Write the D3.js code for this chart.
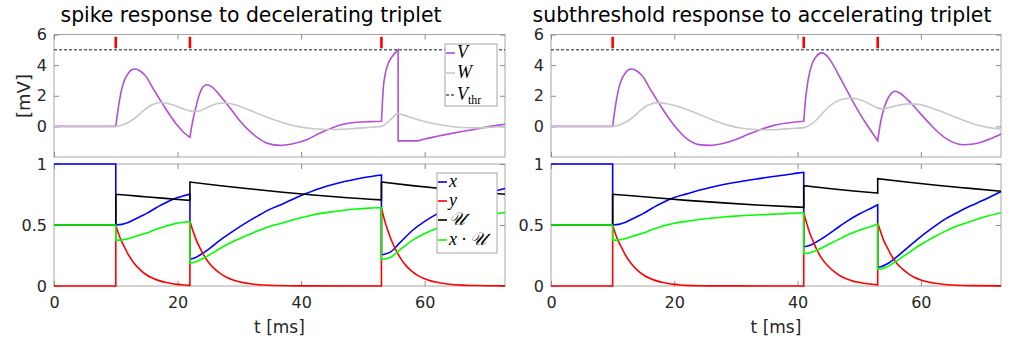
<!DOCTYPE html>
<html>
<head>
<meta charset="utf-8">
<script src="https://cdn.jsdelivr.net/npm/d3@7"></script>
<style>
  body { margin: 0; background: #fff; }
  .tick text { font-family: "DejaVu Sans", sans-serif; font-size: 16px; fill: #262626; }
  .tick line { stroke: #8c8c8c; }
  .lg { font-family: "Liberation Serif", serif; font-style: italic; font-size: 18px; fill: #000; }
</style>
</head>
<body>
<script>
// ---- data (t in ms) ----
const titles = ["spike response to decelerating triplet", "subthreshold response to accelerating triplet"];
const spikesLeft = [10, 22, 53];
const spikesRight = [10, 41, 53];
const vThr = 5;
const xTicks = [0, 20, 40, 60];
const mvTicks = [0, 2, 4, 6];
const stpTicks = [0, 0.5, 1];

const vLeft = [[0,0],[10,0],[10,0],[10.5,1.45],[11,2.5],[11.5,3.1],[12,3.45],[12.5,3.68],[13.1,3.75],[14,3.6],[15,3.2],[16,2.5],[17,1.85],[18,1.2],[19,0.6],[20,0.05],[21,-0.4],[22,-0.72],
  [22,-0.72],[22.5,0.44],[23,1.3],[23.5,2.05],[24.1,2.57],[24.7,2.72],[25.5,2.6],[26.5,2.2],[27.5,1.7],[28.5,1.2],[30,0.4],[31.5,-0.25],[33,-0.75],[34.5,-1.1],[36.6,-1.24],[39,-1.1],[41,-0.85],[43,-0.45],[45,-0.1],[47,0.15],[49,0.27],[51,0.31],[53,0.33],
  [53,0.33],[53.15,1.5],[53.3,2.5],[53.6,3.4],[54.1,4.1],[54.9,4.65],[55.7,5.0],
  [55.7,-0.95],[58.7,-0.95],[60,-0.82],[62,-0.65],[64,-0.49],[66,-0.34],[68,-0.2],[70,-0.05],[72,0.08],[73,0.14]];
const wLeft = [[0,0],[10,0],[11,0.07],[12,0.25],[13,0.5],[14,0.85],[15,1.2],[16,1.43],[17.3,1.56],[18,1.53],[19,1.43],[20,1.29],[21,1.13],[22,1.01],[22.8,0.97],[23.5,1.0],[24.5,1.18],[25.5,1.37],[26.5,1.49],[27.7,1.53],[29,1.45],[30.5,1.25],[32,1.0],[34,0.68],[36,0.38],[38,0.12],[40,-0.05],[42,-0.15],[44,-0.2],[46,-0.2],[48,-0.16],[50,-0.1],[52,-0.03],[53,0],[53.5,0.1],[54.5,0.45],[55.6,0.83],[56.5,0.75],[58,0.55],[60,0.32],[62,0.14],[64,0.01],[66,-0.07],[68,-0.1],[70,-0.07],[73,-0.01]];
const vRight = [[0,0],[10,0],[10,0],[10.5,1.45],[11,2.5],[11.5,3.1],[12,3.45],[12.5,3.68],[13.1,3.75],[14,3.6],[15,3.2],[16,2.5],[17,1.85],[18,1.2],[19,0.6],[20,0.05],[21,-0.42],[22,-0.8],[23,-1.05],[24,-1.19],[25.8,-1.24],[28,-1.1],[30,-0.85],[32,-0.52],[34,-0.2],[36,0.05],[38,0.2],[40,0.3],[41,0.33],
  [41,0.33],[41.3,1.8],[41.7,3.0],[42.2,3.9],[43,4.55],[43.9,4.8],[45,4.5],[46,3.85],[47,3.1],[48,2.35],[49,1.6],[50,0.9],[51,0.25],[52,-0.35],[53,-0.94],
  [53,-0.94],[53.5,0.35],[54,1.15],[54.5,1.7],[55,2.05],[55.8,2.29],[56.7,2.15],[57.7,1.8],[58.7,1.4],[60,0.8],[61.5,0.15],[63,-0.45],[64.5,-0.9],[66,-1.15],[67,-1.2],[68.5,-1.15],[70,-1.0],[71.5,-0.78],[73,-0.5]];
const wRight = [[0,0],[10,0],[11,0.07],[12,0.25],[13,0.5],[14,0.85],[15,1.2],[16,1.43],[17.3,1.55],[19,1.46],[21,1.25],[23,0.95],[25,0.62],[27,0.3],[29,0.05],[31,-0.12],[33,-0.2],[35,-0.22],[37,-0.2],[39,-0.14],[41,-0.08],[42,0.08],[43,0.4],[44,0.85],[45,1.25],[46,1.55],[47,1.74],[48.7,1.85],[50,1.76],[51.5,1.5],[53,1.2],[53.7,1.14],[54.5,1.19],[56,1.35],[58,1.47],[59.5,1.44],[61,1.3],[63,1.02],[65,0.7],[67,0.38],[69,0.1],[71,-0.08],[73,-0.17]];

const xLeft = [[0,1],[10,1],[10,0.5],[11,0.505],[12,0.52],[13,0.545],[14,0.57],[15,0.595],[16,0.625],[17,0.655],[18,0.68],[19,0.705],[20,0.725],[21,0.74],[22,0.753],
  [22,0.22],[22.5,0.225],[23.5,0.25],[25,0.3],[27,0.38],[29,0.45],[31,0.515],[33,0.575],[35,0.63],[37,0.672],[39,0.72],[41,0.762],[43,0.8],[45,0.83],[47,0.856],[49,0.877],[51,0.895],[53,0.91],
  [53,0.255],[53.5,0.26],[54.5,0.28],[56,0.355],[58,0.455],[60,0.53],[62,0.59],[64,0.645],[66,0.69],[68,0.73],[70,0.76],[73,0.8]];
const yLeft = [[0,0],[10,0],[10,0.5],[10.5,0.42],[11,0.36],[11.5,0.31],[12,0.26],[13,0.185],[14,0.13],[15,0.09],[16,0.063],[17,0.044],[18,0.03],[19,0.02],[20,0.013],[21,0.008],[22,0.005],
  [22,0.534],[22.5,0.45],[23,0.38],[23.5,0.325],[24,0.275],[25,0.195],[26,0.14],[27,0.1],[28,0.07],[29,0.05],[30,0.035],[32,0.017],[34,0.008],[36,0.004],[40,0.001],[53,0],
  [53,0.643],[53.5,0.54],[54,0.46],[54.5,0.39],[55,0.33],[56,0.235],[57,0.165],[58,0.118],[59,0.083],[60,0.06],[61,0.042],[62,0.03],[64,0.015],[66,0.007],[68,0.004],[73,0.001]];
const uLeft = [[0,0.5],[10,0.5],[10,0.752],[14,0.735],[18,0.718],[22,0.702],[22,0.852],[27,0.822],[32,0.795],[37,0.769],[42,0.746],[47,0.725],[53,0.706],[53,0.852],[58,0.823],[63,0.797],[68,0.773],[73,0.752]];
const xuLeft = [[0,0.5],[10,0.5],[10,0.376],[11,0.378],[12,0.387],[13,0.403],[14,0.419],[15,0.435],[16,0.454],[17,0.473],[18,0.488],[19,0.503],[20,0.515],[21,0.522],[22,0.529],
  [22,0.187],[22.5,0.191],[23.5,0.211],[25,0.25],[27,0.312],[29,0.365],[31,0.41],[33,0.452],[35,0.49],[37,0.517],[39,0.547],[41,0.572],[43,0.593],[45,0.608],[47,0.621],[49,0.631],[51,0.638],[53,0.643],
  [53,0.217],[53.5,0.221],[54.5,0.236],[56,0.296],[58,0.374],[60,0.43],[62,0.473],[64,0.511],[66,0.54],[68,0.564],[70,0.581],[73,0.602]];

const xRight = [[0,1],[10,1],[10,0.5],[11,0.505],[12,0.52],[13,0.545],[14,0.57],[15,0.595],[16,0.625],[17,0.655],[18,0.68],[19,0.705],[20,0.725],[22,0.755],[24,0.785],[26,0.81],[28,0.832],[30,0.85],[32,0.867],[34,0.882],[36,0.897],[38,0.91],[40,0.925],[41,0.932],
  [41,0.323],[41.5,0.326],[42.5,0.345],[44,0.39],[46,0.46],[48,0.53],[50,0.59],[52,0.64],[53,0.666],
  [53,0.153],[53.5,0.158],[54.5,0.18],[56,0.235],[58,0.32],[60,0.405],[62,0.48],[64,0.55],[66,0.605],[68,0.655],[70,0.7],[73,0.775]];
const yRight = [[0,0],[10,0],[10,0.5],[10.5,0.42],[11,0.36],[11.5,0.31],[12,0.26],[13,0.185],[14,0.13],[15,0.09],[16,0.063],[17,0.044],[18,0.03],[19,0.02],[20,0.013],[21,0.008],[22,0.005],[24,0.002],[28,0.001],[41,0],
  [41,0.601],[41.5,0.51],[42,0.43],[42.5,0.37],[43,0.31],[44,0.22],[45,0.16],[46,0.115],[47,0.08],[48,0.058],[49,0.04],[50,0.03],[51,0.02],[52,0.015],[53,0.01],
  [53,0.517],[53.5,0.44],[54,0.37],[54.5,0.32],[55,0.27],[56,0.19],[57,0.14],[58,0.1],[59,0.07],[60,0.05],[61,0.035],[62,0.025],[64,0.012],[66,0.006],[68,0.003],[73,0.001]];
const uRight = [[0,0.5],[10,0.5],[10,0.752],[16,0.727],[22,0.702],[28,0.681],[34,0.662],[41,0.645],[41,0.822],[44,0.805],[47,0.789],[50,0.775],[53,0.762],[53,0.88],[58,0.85],[63,0.824],[68,0.8],[73,0.776]];
const xuRight = [[0,0.5],[10,0.5],[10,0.376],[11,0.378],[12,0.387],[13,0.403],[14,0.419],[15,0.435],[16,0.454],[17,0.473],[18,0.488],[19,0.503],[20,0.515],[22,0.53],[24,0.545],[26,0.556],[28,0.566],[30,0.573],[32,0.58],[34,0.584],[36,0.589],[38,0.593],[40,0.598],[41,0.601],
  [41,0.266],[41.5,0.267],[42.5,0.281],[44,0.314],[46,0.365],[48,0.416],[50,0.457],[52,0.49],[53,0.507],
  [53,0.135],[53.5,0.139],[54.5,0.157],[56,0.203],[58,0.272],[60,0.34],[62,0.398],[64,0.45],[66,0.493],[68,0.528],[70,0.562],[73,0.601]];

// ---- drawing ----
const svg = d3.select("body").append("svg")
  .attr("width", 1012).attr("height", 339);

const cPurple = "#b24fd6", cGray = "#c8c8c8";

function pathOf(data, xs, ys) {
  let line = d3.line().x(d => xs(d[0])).y(d => ys(d[1])).curve(d3.curveMonotoneX);
  let segs = [], cur = [];
  data.forEach((d, i) => {
    if (i > 0 && d[0] <= data[i - 1][0]) { segs.push(cur); cur = []; }
    cur.push(d);
  });
  segs.push(cur);
  return segs.map((s, i) => {
    let p = line(s).replace(/Z$/, "");
    return i ? "L" + p.slice(1) : p;
  }).join("");
}

function frame(g, xs, ys, yt, showX) {
  let [x0, x1] = xs.range(), [y0, y1] = ys.range();
  g.append("rect").attr("x", x0).attr("y", y1).attr("width", x1 - x0).attr("height", y0 - y1)
    .attr("fill", "none").attr("stroke", "#a6a6a6");
  g.append("g").attr("transform", `translate(${x0},0)`)
    .call(d3.axisLeft(ys).tickValues(yt).tickSizeInner(-5).tickSizeOuter(0).tickPadding(7).tickFormat(d3.format("")))
    .call(a => a.select(".domain").remove());
  g.append("g").attr("transform", `translate(${x1},0)`)
    .call(d3.axisRight(ys).tickValues(yt).tickSizeInner(-5).tickSizeOuter(0).tickFormat(""))
    .call(a => a.select(".domain").remove());
  g.append("g").attr("transform", `translate(0,${y1})`)
    .call(d3.axisTop(xs).tickValues(xTicks).tickSizeInner(-5).tickSizeOuter(0).tickFormat(""))
    .call(a => a.select(".domain").remove());
  g.append("g").attr("transform", `translate(0,${y0})`)
    .call(d3.axisBottom(xs).tickValues(xTicks).tickSizeInner(-5).tickSizeOuter(0).tickPadding(11)
      .tickFormat(showX ? d3.format("") : ""))
    .call(a => a.select(".domain").remove());
}

function draw(left, panel) {
  let xs = d3.scaleLinear().domain([0, 73]).range(left ? [54, 505] : [551, 1001]);
  let yTop = d3.scaleLinear().domain([-2, 6]).range([157, 34.5]);
  let yBot = d3.scaleLinear().domain([0, 1]).range([286, 164]);
  let g = svg.append("g");

  frame(g, xs, yTop, mvTicks, false);
  frame(g, xs, yBot, stpTicks, true);

  // membrane panel
  g.append("path").attr("d", pathOf(panel.v, xs, yTop)).attr("fill", "none").attr("stroke", cPurple).attr("stroke-width", 1.6);
  g.append("path").attr("d", pathOf(panel.w, xs, yTop)).attr("fill", "none").attr("stroke", cGray).attr("stroke-width", 1.6);
  g.append("line").attr("x1", xs(0)).attr("x2", xs(73)).attr("y1", yTop(vThr)).attr("y2", yTop(vThr))
    .attr("stroke", "#000").attr("stroke-dasharray", "3,2").attr("stroke-width", 0.9);
  g.selectAll(".spk").data(panel.spikes).enter().append("line")
    .attr("x1", d => xs(d)).attr("x2", d => xs(d))
    .attr("y1", yTop(5.85)).attr("y2", yTop(5.1))
    .attr("stroke", "#ff0000").attr("stroke-width", 2.6);

  // synapse panel
  [[panel.x, "#0000ff"], [panel.y, "#ff0000"], [panel.u, "#000000"], [panel.xu, "#00ff00"]].forEach(([d, c]) => {
    g.append("path").attr("d", pathOf(d, xs, yBot)).attr("fill", "none").attr("stroke", c).attr("stroke-width", 1.6);
  });

  let cx = (xs.range()[0] + xs.range()[1]) / 2;
  g.append("text").attr("x", left ? 251 : 762).attr("y", 22).attr("text-anchor", "middle")
    .style("font-family", "DejaVu Sans, sans-serif").style("font-size", "20.4px").attr("fill", "#000")
    .text(panel.title);
  g.append("text").attr("x", cx).attr("y", 333).attr("text-anchor", "middle")
    .style("font-family", "DejaVu Sans, sans-serif").style("font-size", "17px").attr("fill", "#262626")
    .text("t [ms]");
}

draw(true, { title: titles[0], spikes: spikesLeft, v: vLeft, w: wLeft, x: xLeft, y: yLeft, u: uLeft, xu: xuLeft });
draw(false, { title: titles[1], spikes: spikesRight, v: vRight, w: wRight, x: xRight, y: yRight, u: uRight, xu: xuRight });

svg.append("text").attr("transform", "translate(30,96) rotate(-90)").attr("text-anchor", "middle")
  .style("font-family", "DejaVu Sans, sans-serif").style("font-size", "18px").attr("fill", "#262626")
  .text("[mV]");

// legends
function legend(x, y, w, h, items) {
  let g = svg.append("g");
  g.append("rect").attr("x", x).attr("y", y).attr("width", w).attr("height", h)
    .attr("fill", "#fff").attr("stroke", "#a6a6a6");
  items.forEach(it => {
    g.append("line").attr("x1", x + 1).attr("x2", x + 10).attr("y1", it.y).attr("y2", it.y)
      .attr("stroke", it.c).attr("stroke-width", it.dash ? 1 : 1.6).attr("stroke-dasharray", it.dash || null);
    let t = g.append("text").attr("class", "lg").attr("x", x + 12).attr("y", it.y + 5);
    t.append("tspan").text(it.label);
    if (it.sub) t.append("tspan").attr("dy", 4).style("font-style", "normal").style("font-size", "12px").text(it.sub);
  });
}
legend(445, 44, 52, 62, [
  { y: 53, c: cPurple, label: "V" },
  { y: 73, c: cGray, label: "W" },
  { y: 95, c: "#000", label: "V", sub: "thr", dash: "3,2" }
]);
legend(437, 173, 60, 80, [
  { y: 182, c: "#0000ff", label: "x" },
  { y: 201, c: "#ff0000", label: "y" },
  { y: 220, c: "#000", label: "\u{1D4B0}" },
  { y: 240, c: "#00ff00", label: "x \u00B7 \u{1D4B0}" }
]);
</script>
</body>
</html>
